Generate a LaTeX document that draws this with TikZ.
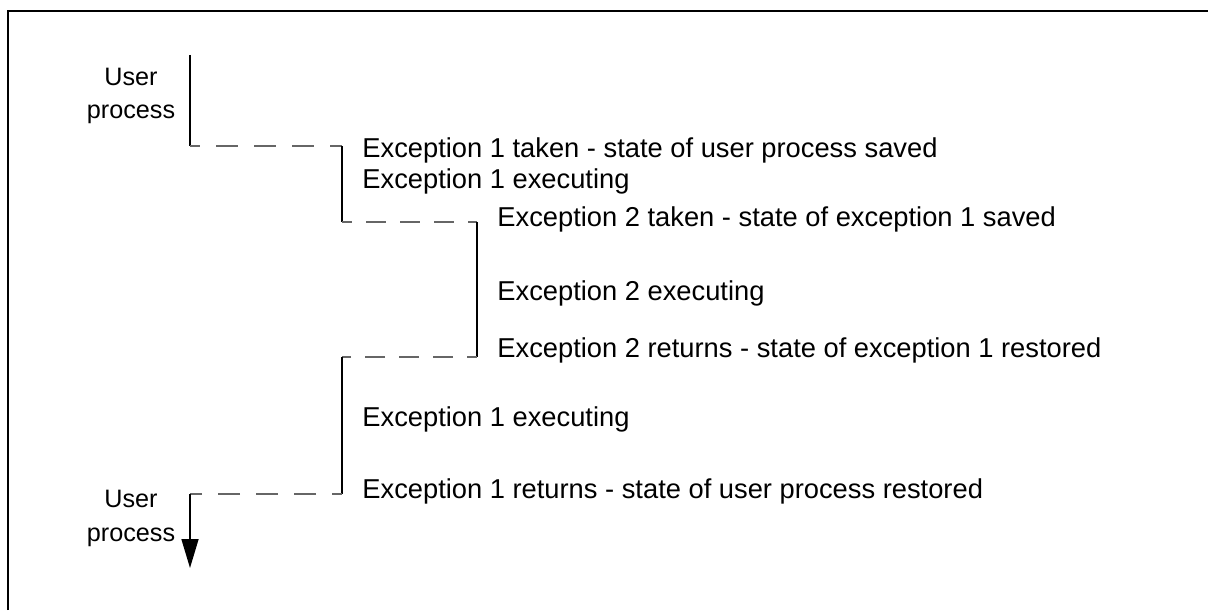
\documentclass[tikz,border=0pt]{standalone}
\usepackage{fontspec}
\setmainfont{Liberation Sans}
\usetikzlibrary{positioning,arrows.meta}

\begin{document}
\begin{tikzpicture}[x=0.5pt, y=-0.5pt,
        every node/.style={font=\fontsize{13.65}{17}\selectfont, inner sep=0pt},
        who/.style={anchor=base, align=center, font=\fontsize{12.6}{17}\selectfont},
        run/.style={line width=0.8pt},
        handoff/.style={draw=black!60, line width=0.6pt, dash pattern=on 11pt off 8pt, dash phase=6pt},
        handoff short/.style={handoff, dash pattern=on 10pt off 7pt, dash phase=5pt}]
            \useasboundingbox (0,0) rectangle (1208,610);
            \draw [line width=1pt] (8,610) -- (8,11) -- (1208,11);
            % corners of the flow
            \coordinate (user0) at (190,55);
            \coordinate (user1) at (190,146);
            \coordinate (exc1a) at (342,146);
            \coordinate (exc1b) at (342,222);
            \coordinate (exc2a) at (477,222);
            \coordinate (exc2b) at (477,357);
            \coordinate (exc1c) at (342,357);
            \coordinate (exc1d) at (342,494);
            \coordinate (user2) at (190,494);
            \coordinate (user3) at (190,568);
            % labels
            \node [who] (usertop) at (131,119) {User\\process};
            \node [who] (userbot) at (131,541) {User\\process};
            \node [anchor=base west] (take1) at (362,157) {Exception 1 taken - state of user process saved};
            \node [anchor=base west] (exec1) at (362,188) {Exception 1 executing};
            \node [anchor=base west] (take2) at (497,226) {Exception 2 taken - state of exception 1 saved};
            \node [anchor=base west] (exec2) at (497,300) {Exception 2 executing};
            \node [anchor=base west] (ret2) at (497,357) {Exception 2 returns - state of exception 1 restored};
            \node [anchor=base west] (exec1b) at (362,426) {Exception 1 executing};
            \node [anchor=base west] (ret1) at (362,498) {Exception 1 returns - state of user process restored};
            % flow
            \draw [run] (user0) -- (user1);
            \draw [handoff] (user1) -- (exc1a);
            \draw [run] (exc1a) -- (exc1b);
            \draw [handoff short] (exc1b) -- (exc2a);
            \draw [run] (exc2a) -- (exc2b);
            \draw [handoff short] (exc2b) -- (exc1c);
            \draw [run] (exc1c) -- (exc1d);
            \draw [handoff] (exc1d) -- (user2);
            \draw [run, -{Triangle[length=14.5pt, width=8.5pt]}] (user2) -- (user3);
        \end{tikzpicture}
\end{document}
